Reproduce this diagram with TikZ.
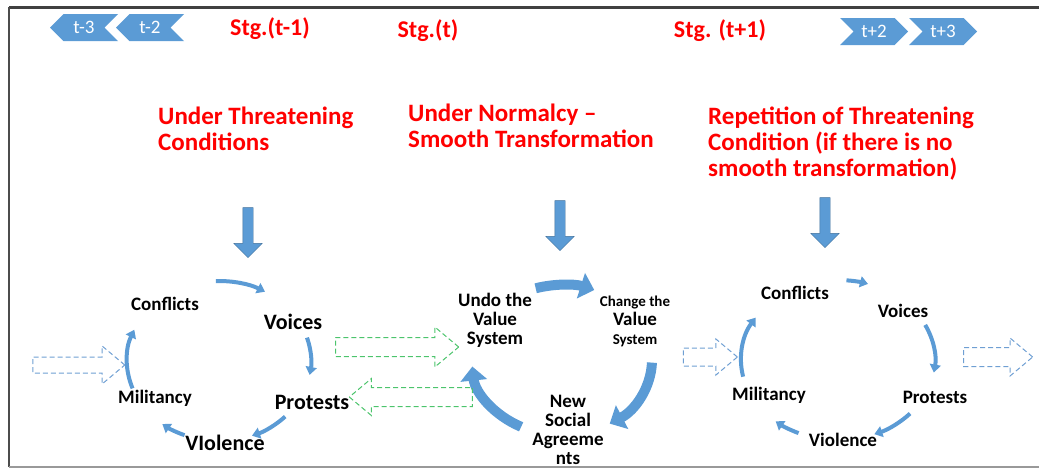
\documentclass[tikz,border=0pt]{standalone}
\usepackage{fontspec}
\setmainfont{Carlito}
\usetikzlibrary{arrows.meta,shapes.arrows,shapes.symbols}

\definecolor{arrblue}{HTML}{5B9BD5}
\definecolor{edgeblue}{HTML}{41719C}
\definecolor{dashblue}{HTML}{6F9FD3}
\definecolor{dashgreen}{HTML}{4CC46C}
\definecolor{stgred}{HTML}{FF0000}

\tikzset{
  lbl/.style={font=\bfseries\fontsize{19}{19}\selectfont, inner sep=0pt, align=center},
  lblbig/.style={lbl, font=\bfseries\fontsize{22}{22}\selectfont},
  head/.style={text=stgred, font=\bfseries\fontsize{25}{26}\selectfont, inner sep=0pt, align=left, anchor=north west},
  stg/.style={text=stgred, font=\bfseries\fontsize{24}{24}\selectfont, inner sep=0pt},
  chev/.style={signal, fill=arrblue, text=white, font=\fontsize{19}{19}\selectfont,
    inner sep=0pt, minimum width=68, minimum height=27},
  cyc/.style={draw=arrblue, line width=4pt, -{Triangle[length=8pt,width=11pt]}},
  cycthick/.style={draw=arrblue, line width=10pt, -{Triangle[length=14pt,width=26pt]}},
  dn/.style={single arrow, fill=arrblue, draw=edgeblue, shape border rotate=270,
    minimum height=50, single arrow head extend=9, inner sep=5pt},
  dsh/.style={single arrow, dashed, dash pattern=on 5pt off 3pt, line width=1pt,
    single arrow head indent=0pt, single arrow tip angle=80}
}

\begin{document}
\begin{tikzpicture}[x=1pt,y=-1pt]
\useasboundingbox (0,0) rectangle (1039,475);

% frame
\draw[line width=3pt, black!75] (9,7) -- (1039,7);
\draw[line width=2pt, black!70] (9,7) -- (9,467);
\draw[line width=1.5pt, black!40] (9,467) -- (1039,467);

% time line
\node[chev, signal to=west, signal from=east] (tm3) at (84,27.5) {t-3};
\node[chev, signal to=west, signal from=east] (tm2) at (150,27.5) {t-2};
\node[chev, signal to=east, signal from=west] (tp2) at (874,31.5) {t+2};
\node[chev, signal to=east, signal from=west] (tp3) at (943,31.5) {t+3};

\node[stg] (stg1) at (270,29) {Stg.(t-1)};
\node[stg] (stg2) at (428,31) {Stg.(t)};
\node[stg] (stg3) at (720,31) {Stg. (t+1)};

% conditions
\node[head] (h1) at (158,107) {Under Threatening\\Conditions};
\node[head] (h2) at (408,104) {Under Normalcy --\\Smooth Transformation};
\node[head] (h3) at (708,107) {Repetition of Threatening\\Condition (if there is no\\smooth transformation)};

\node[dn] (dn1) at (248,230) {};
\node[dn] (dn2) at (560,223) {};
\node[dn] (dn3) at (825,220) {};

% threatening cycle
\coordinate (c1) at (219,361);
\node[lbl] (conf1) at (165,304) {Conflicts};
\node[lblbig] (voic1) at (293,322) {Voices};
\node[lblbig] (prot1) at (312,402) {Protests};
\node[lblbig] (viol1) at (225,443) {VIolence};
\node[lbl] (mili1) at (155,398) {Militancy};
\foreach \a/\b in {268/300, 343/370, 44/69, 112/128, 160/203}
  \draw[cyc] ([shift={(\a:92 and 80)}]c1) arc[start angle=\a, end angle=\b, x radius=92, y radius=80];

% normalcy cycle
\coordinate (c2) at (562,360);
\node[lbl] (undo) at (495,320) {Undo the\\Value\\System};
\node[lbl] (chg) at (635,321) {{\fontsize{15}{19}\selectfont Change the}\\Value\\{\fontsize{15}{19}\selectfont System}};
\node[lbl] (newsa) at (568,430) {New\\Social\\Agreeme\\nts};
\foreach \a/\b in {253/291, 2/58, 117/175}
  \draw[cycthick] ([shift={(\a:90 and 75)}]c2) arc[start angle=\a, end angle=\b, x radius=90, y radius=75];

% repeated cycle
\coordinate (c3) at (838,360);
\node[lbl] (conf3) at (795,293) {Conflicts};
\node[lbl] (voic3) at (903,311) {Voices};
\node[lbl] (prot3) at (935,397) {Protests};
\node[lbl] (viol3) at (843,440) {Violence};
\node[lbl] (mili3) at (769,395) {Militancy};
\foreach \a/\b in {275/288, 334/369, 42/68, 114/130, 168/212}
  \draw[cyc] ([shift={(\a:97 and 80)}]c3) arc[start angle=\a, end angle=\b, x radius=97, y radius=80];

% dashed transitions
\node[dsh, draw=dashblue, inner sep=7.5pt, minimum height=92, single arrow head extend=11] (in1) at (74,365) {};
\node[dsh, draw=dashgreen, inner sep=9pt, minimum height=123, single arrow head extend=10.5] (fwd) at (391.5,347) {};
\node[dsh, draw=dashgreen, inner sep=9pt, minimum height=123, single arrow head extend=9, shape border rotate=180] (back) at (416.5,397) {};
\node[dsh, draw=dashblue, inner sep=8.5pt, minimum height=54, single arrow head extend=9] (in3) at (705,357) {};
\node[dsh, draw=dashblue, inner sep=9pt, minimum height=69, single arrow head extend=9.5] (out3) at (992.5,357) {};
\end{tikzpicture}
\end{document}
